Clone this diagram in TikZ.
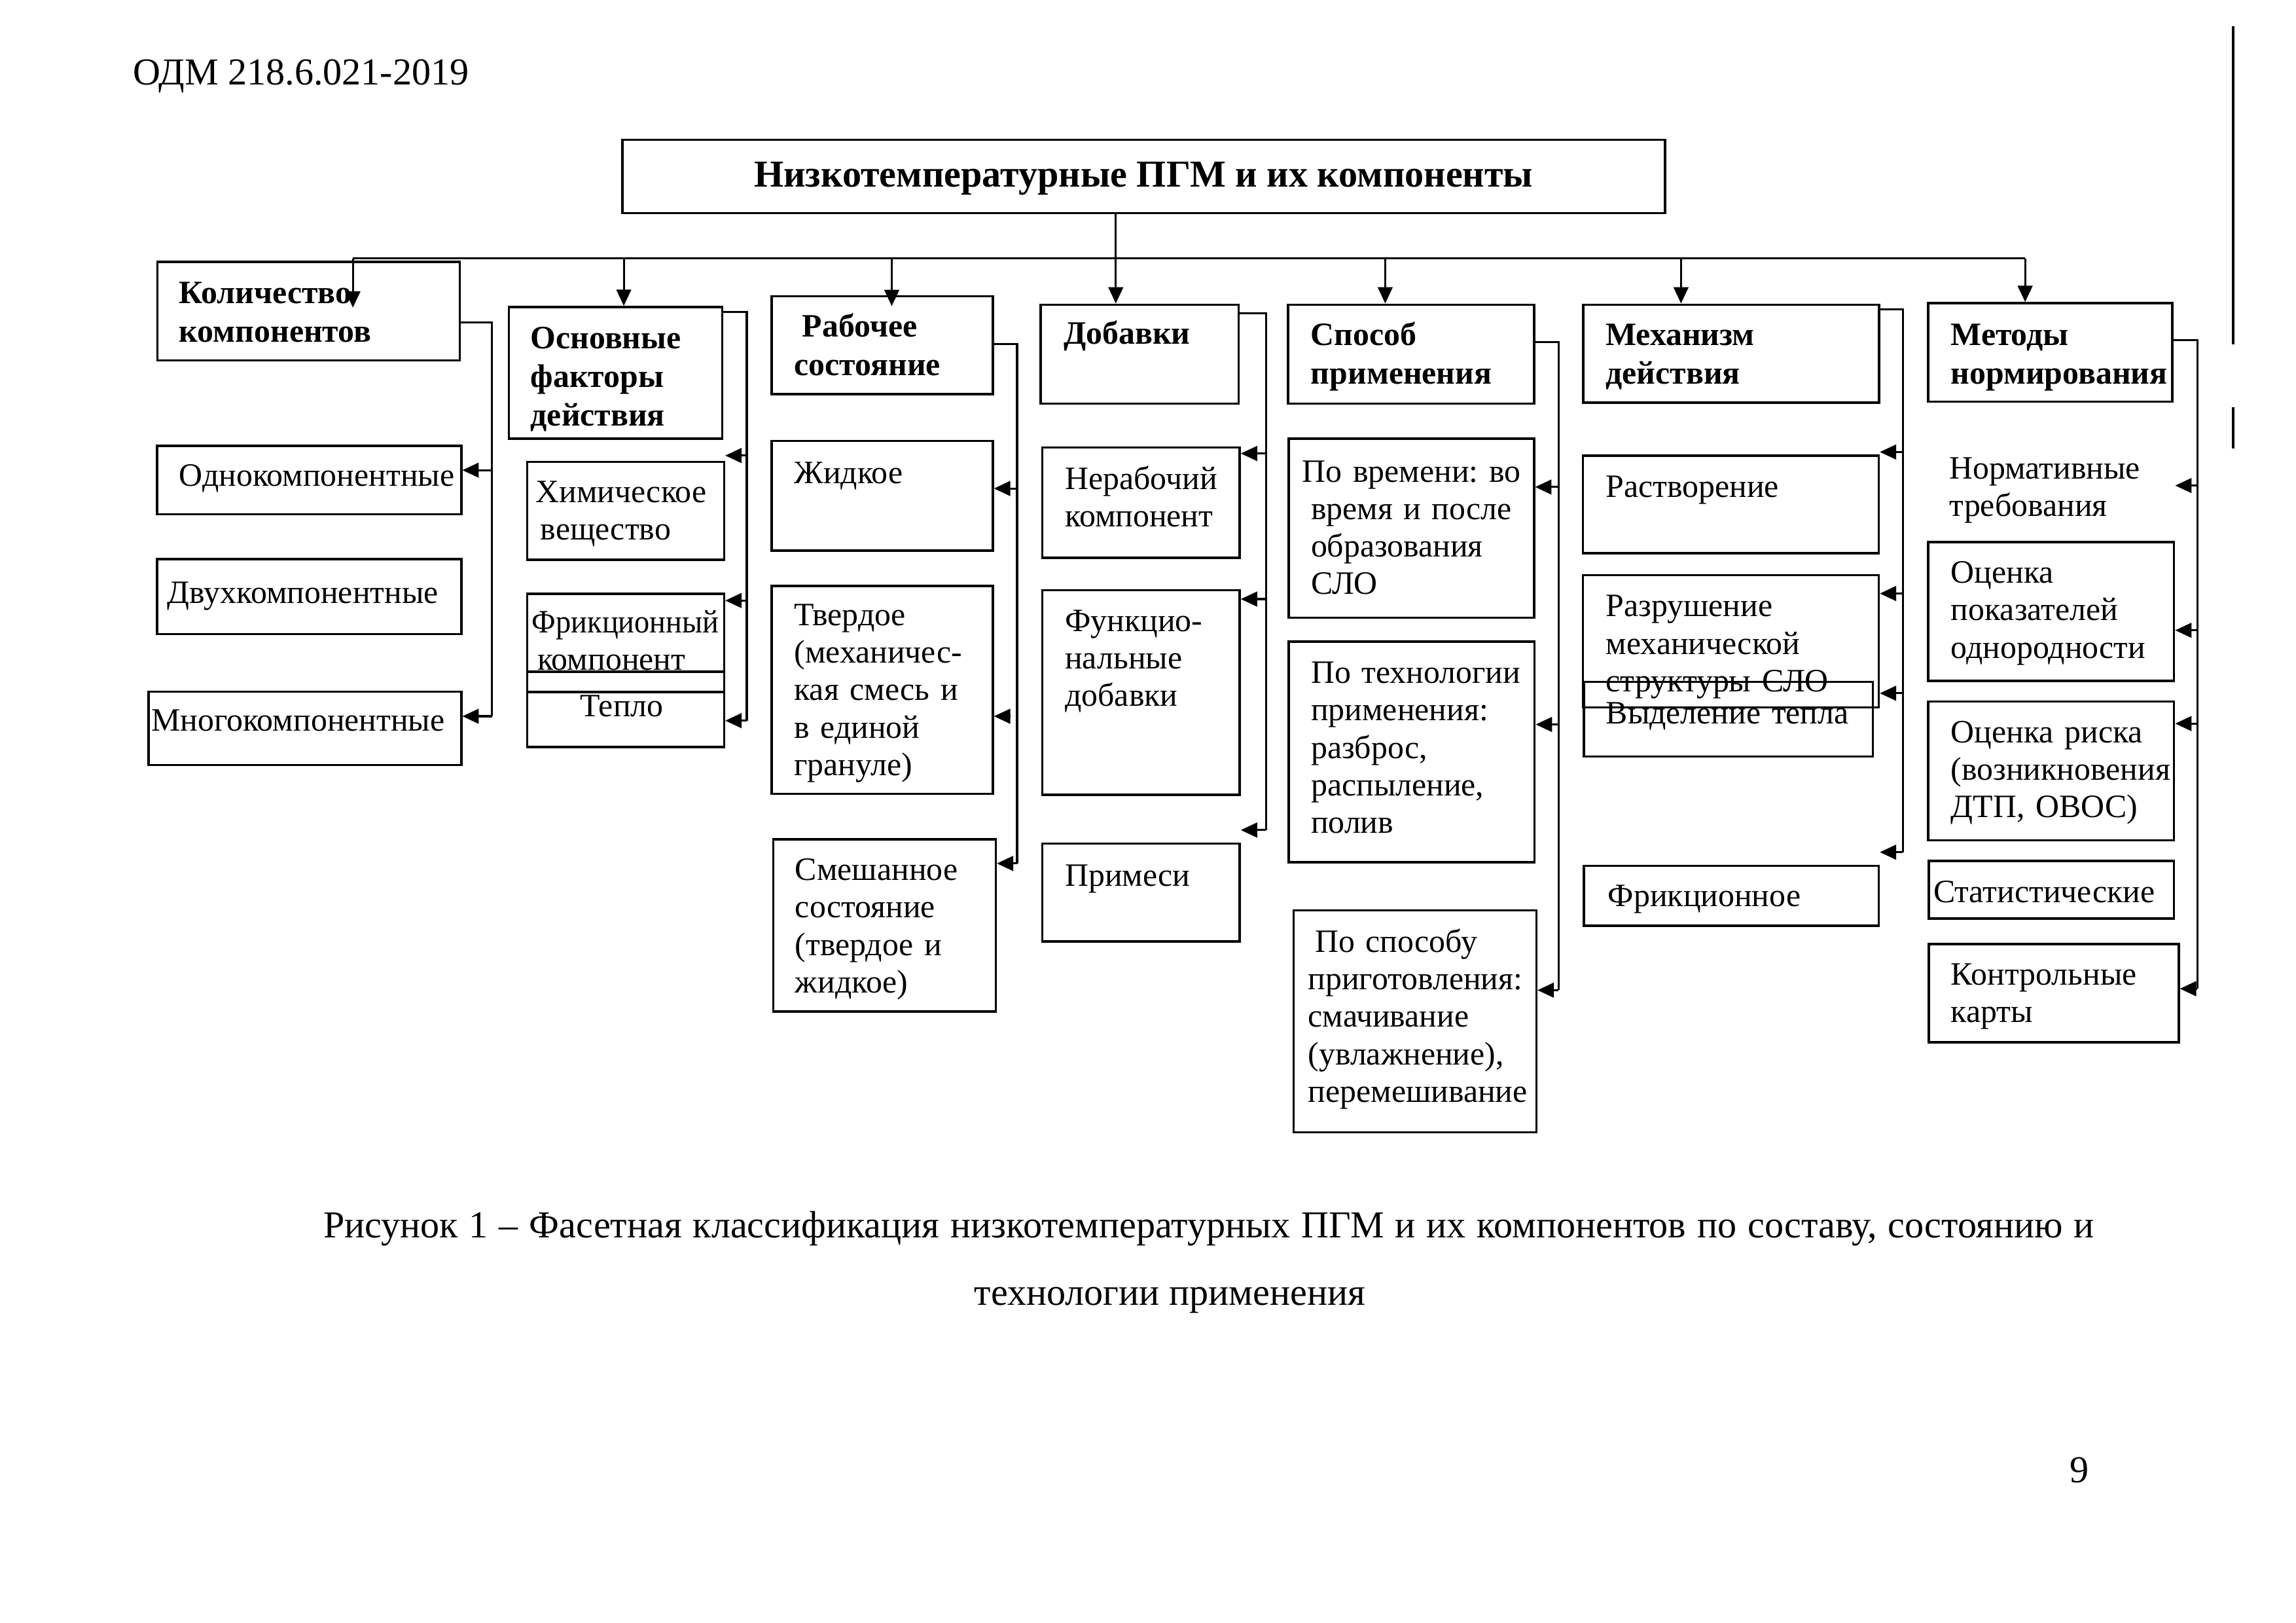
\documentclass[tikz,border=0pt]{standalone}
\usepackage{fontspec}
\setmainfont{Liberation Serif}
\usetikzlibrary{fit,arrows.meta}
\frenchspacing
\begin{document}
\begin{tikzpicture}[x=0.0189413cm,y=-0.0189413cm,
  box/.style={draw, line width=0.85pt, inner sep=0pt, rectangle},
  txt/.style={font=\fontsize{12}{13.8}\selectfont\frenchspacing, text width=5cm, align=left, inner sep=0pt, anchor=base west},
  hdr/.style={font=\fontsize{12}{14.2}\selectfont\bfseries\frenchspacing, text width=5cm, align=left, inner sep=0pt, anchor=base west},
  big/.style={font=\fontsize{14}{16}\selectfont, inner sep=0pt},
  conn/.style={line width=0.75pt},
  arr/.style={conn, -{Triangle[length=6pt,width=5.4pt]}}]
\useasboundingbox (0,0) rectangle (1568,1108);

% page header, scan edge, page number
\node[big, anchor=base west] (doc) at (90.6,58) {ОДМ 218.6.021-2019};
\draw[line width=0.8pt] (1525,18) -- (1525,235);
\draw[line width=0.8pt] (1525,278) -- (1525,306);
\node[big, anchor=base] (pg) at (1420,1012) {9};

% title
\node[box, fit={(425,95.5) (1137,145.5)}] (title) {};
\node[big, anchor=base, font=\fontsize{14}{16}\selectfont\bfseries] (titlet) at (781,127.5) {Низкотемпературные ПГМ и их компоненты};

% header boxes
\node[box, fit={(107.4,178.8) (314,246)}] (h1) {};
\node[hdr] (h1t) at (122,207) {Количество\\компонентов};
\node[box, fit={(347.6,209.6) (493.3,299.4)}] (h2) {};
\node[hdr] (h2t) at (362,238) {Основные\\факторы\\действия};
\node[box, fit={(527,202.3) (678,269)}] (h3) {};
\node[hdr] (h3t) at (542,230) {\hspace*{3pt}Рабочее\\состояние};
\node[box, fit={(710.7,208) (846,275.5)}] (h4) {};
\node[hdr] (h4t) at (726,235) {Добавки};
\node[box, fit={(879.7,208) (1047.6,275.5)}] (h5) {};
\node[hdr] (h5t) at (894.9,236) {Способ\\применения};
\node[box, fit={(1081.2,208) (1283.2,275)}] (h6) {};
\node[hdr] (h6t) at (1096.3,236) {Механизм\\действия};
\node[box, fit={(1316.7,207) (1483.6,274.3)}] (h7) {};
\node[hdr] (h7t) at (1331.9,236) {Методы\\нормирования};

% group 1
\node[box, fit={(107.3,304.5) (315,351)}] (n11) {};
\node[txt] (n11t) at (122,332) {Однокомпонентные};
\node[box, fit={(107.3,381.7) (315,432.9)}] (n12) {};
\node[txt] (n12t) at (114,412) {Двухкомпонентные};
\node[box, fit={(101.4,472.2) (315,522.3)}] (n13) {};
\node[txt] (n13t) at (103,499) {Многокомпонентные};

% group 2
\node[box, fit={(360,315.3) (494.5,382.2)}] (n21) {};
\node[txt] (n21t) at (365.6,343) {Химическое\\\hspace*{1.7pt}вещество};
\node[box, fit={(360,405.4) (494.5,472.5)}] (n22) {};
\node[txt] (n22t) at (363,432) {\scalebox{0.93}[1]{Фрикционный}\\\hspace*{2pt}компонент};
\node[box, fit={(360,458.6) (494.5,510)}] (n23) {};
\node[txt, text width=, anchor=base] (n23t) at (424.6,489) {Тепло};

% group 3
\node[box, fit={(527,301) (678,376)}] (n31) {};
\node[txt] (n31t) at (542,330) {Жидкое};
\node[box, fit={(527,400) (678,542)}] (n32) {};
\node[txt] (n32t) at (542,427) {Твердое\\(механичес-\\кая смесь и\\в единой\\грануле)};
\node[box, fit={(528,573) (680,690.6)}] (n33) {};
\node[txt] (n33t) at (542.7,601) {Смешанное\\состояние\\(твердое и\\жидкое)};

% group 4
\node[box, fit={(711.7,305.5) (846.6,380.8)}] (n41) {};
\node[txt] (n41t) at (727,334) {Нерабочий\\компонент};
\node[box, fit={(711.7,403) (846.6,542.6)}] (n42) {};
\node[txt] (n42t) at (727,431) {Функцио-\\нальные\\добавки};
\node[box, fit={(711.7,576) (846.6,642.8)}] (n43) {};
\node[txt] (n43t) at (727,605) {Примеси};

% group 5
\node[box, fit={(880,299.5) (1047.6,421.8)}] (n51) {};
\node[txt] (n51t) at (889,329) {По времени: во\\\hspace*{3.2pt}время и после\\\hspace*{3.2pt}образования\\\hspace*{3.2pt}СЛО};
\node[box, fit={(880,438) (1048,588.7)}] (n52) {};
\node[txt] (n52t) at (895,466.5) {По технологии\\применения:\\разброс,\\распыление,\\полив};
\node[box, fit={(883.5,621.6) (1049.2,773)}] (n53) {};
\node[txt] (n53t) at (893,650) {\hspace*{2.5pt}По способу\\приготовления:\\смачивание\\(увлажнение),\\перемешивание};

% group 6
\node[box, fit={(1081,311) (1283,377.6)}] (n61) {};
\node[txt] (n61t) at (1096.4,339.5) {Растворение};
\node[box, fit={(1081,392.7) (1283,483)}] (n62) {};
\node[txt] (n62t) at (1096.4,421) {Разрушение\\механической\\структуры СЛО};
\node[box, fit={(1081.7,465.5) (1279,516.5)}] (n63) {};
\node[txt] (n63t) at (1096.4,494) {Выделение тепла};
\node[box, fit={(1081.7,591.2) (1283,632)}] (n64) {};
\node[txt] (n64t) at (1097.8,619) {Фрикционное};

% group 7
\node[txt] (n71t) at (1331,327) {Нормативные\\требования};
\node[box, fit={(1316.7,370) (1484.7,464.8)}] (n72) {};
\node[txt] (n72t) at (1332,398) {Оценка\\показателей\\однородности};
\node[box, fit={(1316.7,479) (1484.7,573.6)}] (n73) {};
\node[txt] (n73t) at (1332,507) {Оценка риска\\(возникновения\\ДТП, ОВОС)};
\node[box, fit={(1317.3,587.7) (1484.7,627)}] (n74) {};
\node[txt] (n74t) at (1320,616) {Статистические};
\node[box, fit={(1317.3,644.5) (1487.9,711.6)}] (n75) {};
\node[txt] (n75t) at (1332,672.5) {Контрольные\\карты};

% bus from title
\coordinate (bus1) at (241,176.5);
\coordinate (bus2) at (426,176.5);
\coordinate (bus3) at (609,176.5);
\coordinate (bus4) at (762,176.5);
\coordinate (bus5) at (946,176.5);
\coordinate (bus6) at (1148,176.5);
\coordinate (bus7) at (1383,176.5);
\coordinate (k1) at (241,210);
\coordinate (k3) at (609,209);
\draw[conn] (bus1) -- (bus7);
\draw[arr] (bus1) -- (k1);
\draw[arr] (bus2) -- (bus2 |- h2.north);
\draw[arr] (bus3) -- (k3);
\draw[arr] (title.south -| bus4) -- (bus4 |- h4.north);
\draw[arr] (bus5) -- (bus5 |- h5.north);
\draw[arr] (bus6) -- (bus6 |- h6.north);
\draw[arr] (bus7) -- (bus7 |- h7.north);

% group 1 connectors
\coordinate (g1a) at (336,220);
\coordinate (g1b) at (336,489);
\coordinate (a11) at (336,321);
\draw[conn] (g1a -| h1.east) -- (g1a) -- (g1b);
\draw[arr] (a11) -- (a11 -| n11.east);
\draw[arr] (g1b) -- (g1b -| n13.east);

% group 2 connectors
\coordinate (g2a) at (510,213);
\coordinate (g2b) at (510,492);
\coordinate (a21) at (510,311);
\coordinate (a22) at (510,410);
\draw[conn] (g2a -| h2.east) -- (g2a) -- (g2b);
\draw[arr] (a21) -- (a21 -| n21.east);
\draw[arr] (a22) -- (a22 -| n22.east);
\draw[arr] (g2b) -- (g2b -| n23.east);

% group 3 connectors
\coordinate (g3a) at (694.6,235);
\coordinate (g3b) at (694.6,589.5);
\coordinate (a31) at (694.6,333.5);
\coordinate (a32) at (690,489);
\draw[conn] (g3a -| h3.east) -- (g3a) -- (g3b);
\draw[arr] (a31) -- (a31 -| n31.east);
\draw[arr] (a32) -- (a32 -| n32.east);
\draw[arr] (g3b) -- (g3b -| n33.east);

% group 4 connectors
\coordinate (g4a) at (864.5,214);
\coordinate (g4b) at (864.5,566.7);
\coordinate (a41) at (864.5,309.6);
\coordinate (a42) at (864.5,409);
\draw[conn] (g4a -| h4.east) -- (g4a) -- (g4b);
\draw[arr] (a41) -- (a41 -| n41.east);
\draw[arr] (a42) -- (a42 -| n42.east);
\draw[arr] (g4b) -- (g4b -| n43.east);

% group 5 connectors
\coordinate (g5a) at (1064.3,233.6);
\coordinate (g5b) at (1064.3,676);
\coordinate (a51) at (1064.3,332.5);
\coordinate (a52) at (1064.3,494.6);
\draw[conn] (g5a -| h5.east) -- (g5a) -- (g5b);
\draw[arr] (a51) -- (a51 -| n51.east);
\draw[arr] (a52) -- (a52 -| n52.east);
\draw[arr] (g5b) -- (g5b -| n53.east);

% group 6 connectors
\coordinate (g6a) at (1299.5,211.3);
\coordinate (g6b) at (1299.5,581.8);
\coordinate (a61) at (1299.5,308.6);
\coordinate (a62) at (1299.5,405.2);
\coordinate (a63) at (1299.5,473.3);
\draw[conn] (g6a -| h6.east) -- (g6a) -- (g6b);
\draw[arr] (a61) -- (a61 -| n61.east);
\draw[arr] (a62) -- (a62 -| n62.east);
\draw[arr] (a63) -- (a63 -| n62.east);
\draw[arr] (g6b) -- (g6b -| n64.east);

% group 7 connectors
\coordinate (g7a) at (1500.6,232.2);
\coordinate (g7b) at (1500.6,675);
\coordinate (a71) at (1500.6,331.5);
\coordinate (a72) at (1500.6,430.3);
\coordinate (a73) at (1500.6,494);
\draw[conn] (g7a -| h7.east) -- (g7a) -- (g7b);
\draw[arr] (a71) -- (a71 -| n72.east);
\draw[arr] (a72) -- (a72 -| n72.east);
\draw[arr] (a73) -- (a73 -| n73.east);
\draw[arr] (g7b) -- (g7b -| n75.east);

% caption
\node[big, anchor=base] (cap1) at (825.5,845) {\hbox to 22.9cm{Рисунок 1 – Фасетная классификация низкотемпературных ПГМ и их компонентов по составу, состоянию и}};
\node[big, anchor=base] (cap2) at (799,891) {технологии применения};
\end{tikzpicture}
\end{document}
